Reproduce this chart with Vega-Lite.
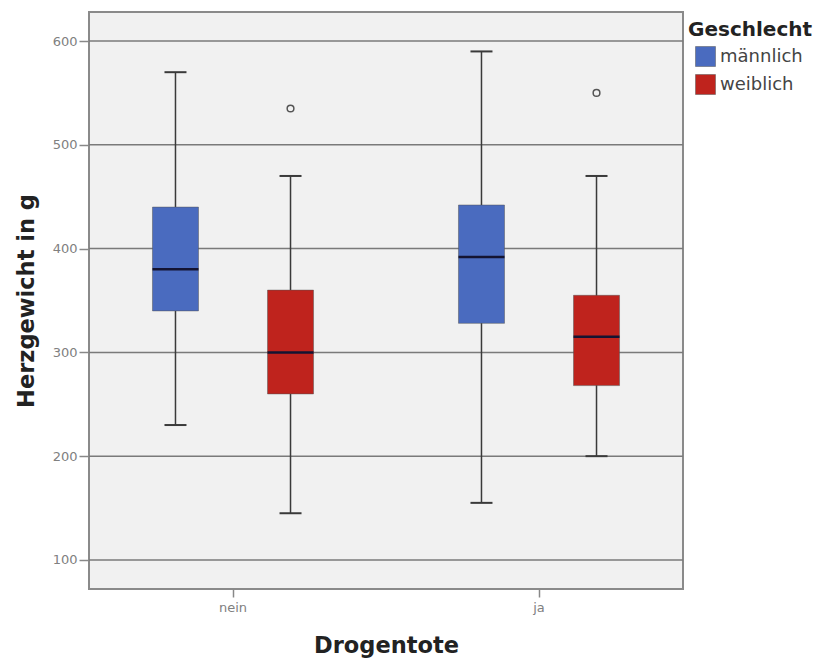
{
  "$schema": "https://vega.github.io/schema/vega-lite/v6.json",
  "width": 594,
  "height": 577,
  "autosize": {"type": "none"},
  "padding": {"left": 89, "top": 12, "right": 134, "bottom": 71},
  "background": "white",
  "datasets": {
    "grid": [{"v": 100}, {"v": 200}, {"v": 300}, {"v": 400}, {"v": 500}, {"v": 600}],
    "boxes": [
      {"Drogentote": "nein", "Geschlecht": "männlich", "lo": 230, "q1": 340, "med": 380, "q3": 440, "hi": 570},
      {"Drogentote": "nein", "Geschlecht": "weiblich", "lo": 145, "q1": 260, "med": 300, "q3": 360, "hi": 470},
      {"Drogentote": "ja", "Geschlecht": "männlich", "lo": 155, "q1": 328, "med": 392, "q3": 442, "hi": 590},
      {"Drogentote": "ja", "Geschlecht": "weiblich", "lo": 200, "q1": 268, "med": 315, "q3": 355, "hi": 470}
    ],
    "outliers": [
      {"Drogentote": "nein", "Geschlecht": "weiblich", "wert": 535},
      {"Drogentote": "ja", "Geschlecht": "weiblich", "wert": 550}
    ]
  },
  "layer": [
    {
      "data": {"name": "grid"},
      "mark": {"type": "rule", "color": "#7a7a7a", "strokeWidth": 1.5},
      "encoding": {
        "y": {
          "field": "v", "type": "quantitative",
          "scale": {"domain": [72, 628], "nice": false, "zero": false},
          "axis": {
            "title": "Herzgewicht in g", "values": [100, 200, 300, 400, 500, 600],
            "domain": false, "grid": false,
            "ticks": true, "tickSize": 10, "tickColor": "#888", "tickWidth": 1.5,
            "labelColor": "#808080", "labelFontSize": 13, "labelPadding": 2,
            "titleFontSize": 22.5, "titleFontWeight": "bold", "titleColor": "#222", "titlePadding": 14
          }
        }
      }
    },
    {
      "data": {"name": "boxes"},
      "mark": {"type": "rule", "color": "#3a3a3a", "strokeWidth": 1.5},
      "encoding": {
        "x": {
          "field": "Drogentote", "type": "nominal", "sort": ["nein", "ja"],
          "scale": {"paddingInner": 0, "paddingOuter": 0, "range": [-9, 603]},
          "axis": {
            "title": "Drogentote", "labelAngle": 0, "domain": false, "grid": false,
            "ticks": true, "tickSize": 8, "tickColor": "#888", "tickWidth": 1.5,
            "labelColor": "#808080", "labelFontSize": 13, "labelPadding": 4,
            "titleFontSize": 22.5, "titleFontWeight": "bold", "titleColor": "#222", "titlePadding": 20
          }
        },
        "xOffset": {
          "field": "Geschlecht", "type": "nominal", "sort": ["männlich", "weiblich"],
          "scale": {"paddingInner": 0.6, "paddingOuter": 0.63}
        },
        "y": {"field": "lo", "type": "quantitative"},
        "y2": {"field": "hi"}
      }
    },
    {
      "data": {"name": "boxes"},
      "mark": {"type": "tick", "color": "#3a3a3a", "thickness": 2, "size": 22, "opacity": 1},
      "encoding": {
        "x": {"field": "Drogentote", "type": "nominal", "sort": ["nein", "ja"]},
        "xOffset": {"field": "Geschlecht", "type": "nominal", "sort": ["männlich", "weiblich"]},
        "y": {"field": "lo", "type": "quantitative"}
      }
    },
    {
      "data": {"name": "boxes"},
      "mark": {"type": "tick", "color": "#3a3a3a", "thickness": 2, "size": 22, "opacity": 1},
      "encoding": {
        "x": {"field": "Drogentote", "type": "nominal", "sort": ["nein", "ja"]},
        "xOffset": {"field": "Geschlecht", "type": "nominal", "sort": ["männlich", "weiblich"]},
        "y": {"field": "hi", "type": "quantitative"}
      }
    },
    {
      "data": {"name": "boxes"},
      "mark": {"type": "bar", "stroke": "#555", "strokeWidth": 0.5, "opacity": 1},
      "encoding": {
        "x": {"field": "Drogentote", "type": "nominal", "sort": ["nein", "ja"]},
        "xOffset": {"field": "Geschlecht", "type": "nominal", "sort": ["männlich", "weiblich"]},
        "y": {"field": "q1", "type": "quantitative"},
        "y2": {"field": "q3"},
        "color": {
          "field": "Geschlecht", "type": "nominal",
          "scale": {"domain": ["männlich", "weiblich"], "range": ["#4a6bbf", "#bf231d"]},
          "legend": {
            "title": "Geschlecht", "orient": "none", "legendX": 599, "legendY": 8,
            "titleFontSize": 20, "titleFontWeight": "bold", "titleColor": "#222",
            "labelFontSize": 18, "labelColor": "#444", "symbolType": "square",
            "symbolSize": 400, "symbolOffset": 7, "labelOffset": 4, "rowPadding": 5,
            "titlePadding": 6, "symbolStrokeColor": "#555", "symbolStrokeWidth": 0.5
          }
        }
      }
    },
    {
      "data": {"name": "boxes"},
      "mark": {"type": "tick", "color": "#141432", "thickness": 2.5, "size": 46, "opacity": 1},
      "encoding": {
        "x": {"field": "Drogentote", "type": "nominal", "sort": ["nein", "ja"]},
        "xOffset": {"field": "Geschlecht", "type": "nominal", "sort": ["männlich", "weiblich"]},
        "y": {"field": "med", "type": "quantitative"}
      }
    },
    {
      "data": {"name": "outliers"},
      "mark": {"type": "point", "shape": "circle", "filled": false, "stroke": "#555", "strokeWidth": 1.5, "size": 45, "opacity": 1},
      "encoding": {
        "x": {"field": "Drogentote", "type": "nominal", "sort": ["nein", "ja"]},
        "xOffset": {"field": "Geschlecht", "type": "nominal", "sort": ["männlich", "weiblich"]},
        "y": {"field": "wert", "type": "quantitative"}
      }
    }
  ],
  "config": {
    "font": "DejaVu Sans",
    "view": {"fill": "#f1f1f1", "stroke": "#8a8a8a", "strokeWidth": 2}
  }
}
